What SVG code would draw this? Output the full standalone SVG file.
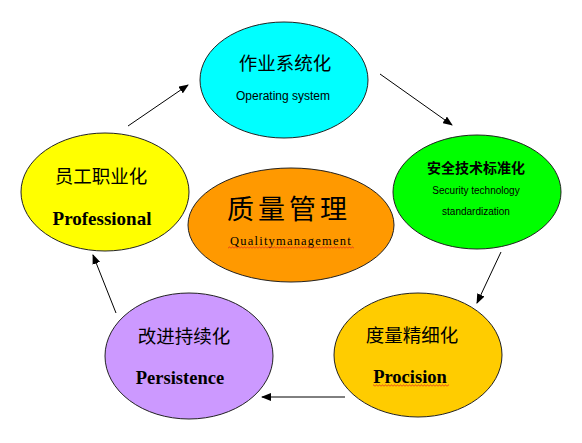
<svg xmlns="http://www.w3.org/2000/svg" width="582" height="443" viewBox="0 0 582 443">
  <defs>
    <marker id="arrow" markerWidth="10" markerHeight="8" refX="9" refY="4" orient="auto" markerUnits="userSpaceOnUse">
      <path d="M0,0 L10,4 L0,8 Z" fill="#000"/>
    </marker>
    <pattern id="wave" width="3" height="3" patternUnits="userSpaceOnUse">
      <path d="M0,2.5 L1.5,0.7 L3,2.5" stroke="#e02020" stroke-width="0.7" fill="none"/>
    </pattern>
  </defs>
  <style>
    .node { stroke: #222; stroke-width: 1; }
    .zh { font-family: "Noto Sans CJK SC", "Noto Sans", sans-serif; fill: #000; text-anchor: middle; }
    .en { font-family: "Liberation Sans", Arial, sans-serif; fill: #000; text-anchor: middle; }
    .tm { font-family: "Liberation Serif", "Times New Roman", serif; font-weight: bold; fill: #000; text-anchor: middle; }
    .tmr { font-family: "Liberation Serif", "Times New Roman", serif; font-weight: normal; fill: #000; text-anchor: middle; }
    .conn { stroke: #000; stroke-width: 1; fill: none; marker-end: url(#arrow); }
  </style>
  <rect width="582" height="443" fill="#fff"/>

  <g id="connectors">
    <line class="conn" x1="128" y1="126" x2="188" y2="85"/>
    <line class="conn" x1="380" y1="74" x2="452" y2="125"/>
    <line class="conn" x1="501" y1="252" x2="477" y2="303"/>
    <line class="conn" x1="345" y1="397" x2="262" y2="397"/>
    <line class="conn" x1="116" y1="313" x2="93" y2="255"/>
  </g>

  <g id="operating">
    <ellipse class="node" cx="284" cy="80" rx="84" ry="58" fill="#00FFFF"/>
    <text class="zh" x="285" y="70" font-size="18.5">作业系统化</text>
    <text class="en" x="283" y="100" font-size="12">Operating system</text>
  </g>

  <g id="security">
    <ellipse class="node" cx="477" cy="192" rx="84" ry="57" fill="#00FF00"/>
    <text class="zh" x="476" y="173" font-size="14" font-weight="bold">安全技术标准化</text>
    <text class="en" x="476" y="194" font-size="10">Security technology</text>
    <text class="en" x="476" y="215" font-size="10">standardization</text>
  </g>

  <g id="professional">
    <ellipse class="node" cx="105" cy="192" rx="84" ry="59" fill="#FFFF00"/>
    <text class="zh" x="101" y="183" font-size="18.5">员工职业化</text>
    <text class="tm" x="102" y="225" font-size="19">Professional</text>
  </g>

  <g id="quality">
    <ellipse class="node" cx="291" cy="225" rx="103" ry="57" fill="#FF9900"/>
    <text class="zh" x="289" y="219" font-size="27" letter-spacing="4">质量管理</text>
    <text class="tmr" x="291" y="245" font-size="12.5" letter-spacing="1.2">Qualitymanagement</text>
    <rect x="228" y="246" width="126" height="3" fill="url(#wave)"/>
  </g>

  <g id="precision">
    <ellipse class="node" cx="418" cy="355" rx="84" ry="62" fill="#FFCC00"/>
    <text class="zh" x="412" y="342" font-size="18.5">度量精细化</text>
    <text class="tm" x="410" y="383" font-size="18.5">Procision</text>
    <rect x="373" y="384" width="76" height="3" fill="url(#wave)"/>
  </g>

  <g id="persistence">
    <ellipse class="node" cx="189" cy="356" rx="84" ry="63" fill="#CC99FF"/>
    <text class="zh" x="184" y="343" font-size="18.5">改进持续化</text>
    <text class="tm" x="180" y="384" font-size="18.5">Persistence</text>
  </g>
</svg>
